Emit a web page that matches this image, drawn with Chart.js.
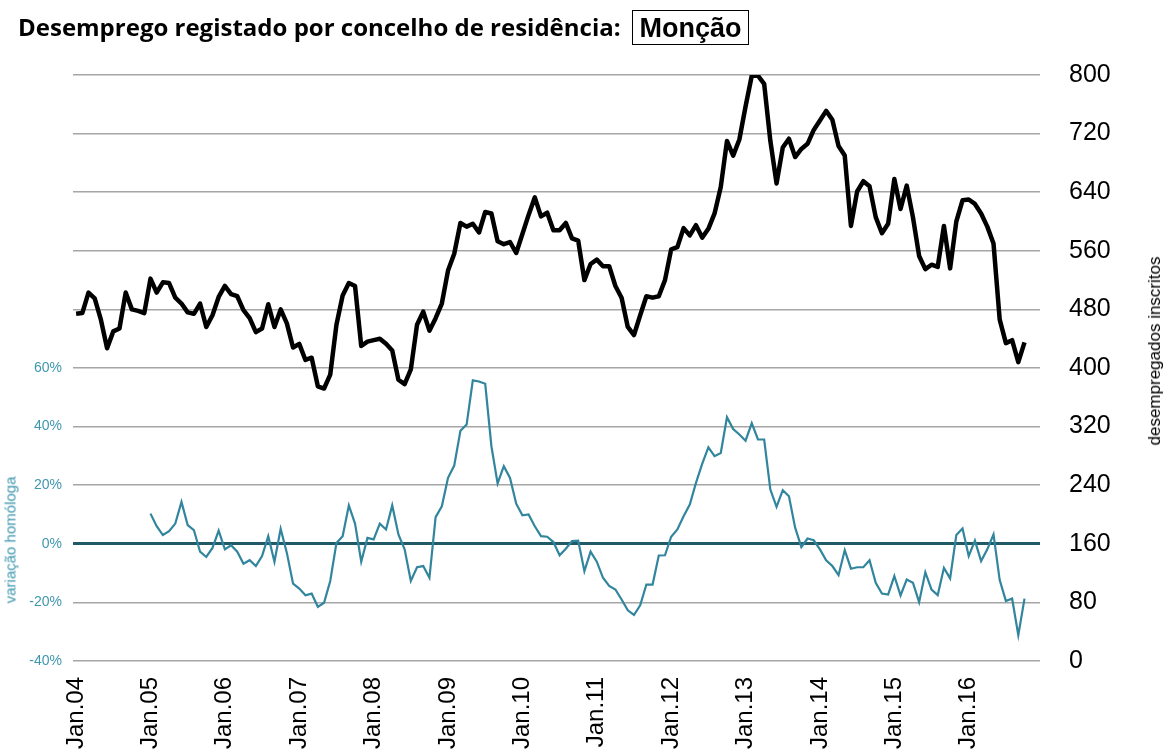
<!DOCTYPE html>
<html lang="pt">
<head>
  <meta charset="UTF-8">
  <title>Desemprego registado - Monção</title>
  <script src="https://cdn.jsdelivr.net/npm/chart.js"></script>
  <style>
    html, body { margin: 0; padding: 0; background: #fff; }
    #wrap { position: relative; width: 1169px; height: 754px; overflow: hidden; }
    #chart { position: absolute; left: 0; top: 0; }
    #title { position: absolute; left: 18px; top: 10px; font: bold 24px "Open Sans", Lato, sans-serif; color: #000; white-space: nowrap; }
    #muni { position: absolute; left: 632px; top: 10px; width: 115px; height: 33px; border: 1px solid #000;
            font: bold 27px "Liberation Sans", Arial, sans-serif; text-align: center; line-height: 34px; }
    .ytitle { position: absolute; white-space: nowrap; transform: translate(-50%, -50%) rotate(-90deg);
              font-family: "Liberation Sans", Arial, sans-serif; }
  </style>
</head>
<body>
<div id="wrap">
  <canvas id="chart" width="1169" height="754"></canvas>
  <div id="title">Desemprego registado por concelho de residência:</div>
  <div id="muni">Monção</div>
  <div class="ytitle" style="left:10px; top:540px; font-size:15px; color:#3f97ae;">variação homóloga</div>
  <div class="ytitle" style="left:1155px; top:351px; font-size:17px; color:#000;">desempregados inscritos</div>
</div>

<script>
  // month labels Jan.04 .. Dez.16
  const monthNames = ['Jan', 'Fev', 'Mar', 'Abr', 'Mai', 'Jun', 'Jul', 'Ago', 'Set', 'Out', 'Nov', 'Dez'];
  const years = ['04', '05', '06', '07', '08', '09', '10', '11', '12', '13', '14', '15', '16'];
  const months = [];
  years.forEach(y => monthNames.forEach(m => months.push(m + '.' + y)));

  // desempregados inscritos (right axis), Jan.04 .. Out.16
  const registered = [
    474, 475, 503, 495, 466, 427, 450, 454, 503, 480, 478, 475,
    522, 503, 517, 516, 496, 488, 476, 474, 488, 456, 472, 497,
    512, 501, 498, 479, 468, 449, 454, 487, 456, 480, 461, 428,
    433, 411, 414, 375, 372, 391, 459, 499, 516, 512, 430, 436,
    438, 440, 433, 424, 384, 378, 398, 459, 477, 451, 468, 488,
    533, 556, 598, 593, 597, 585, 613, 611, 573, 569, 572, 557,
    583, 609, 633, 607, 612, 588, 588, 598, 577, 574, 520, 542,
    548, 539, 539, 512, 496, 456, 445, 472, 498, 496, 498, 520,
    562, 565, 591, 581, 595, 578, 590, 611, 647, 710, 690, 712,
    757, 799, 799, 788, 710, 652, 701, 713, 688, 699, 706, 725,
    738, 751, 739, 703, 690, 594, 641, 655, 648, 606, 584, 597,
    658, 617, 649, 606, 553, 535, 541, 538, 594, 536, 600, 629,
    630, 624, 611, 593, 570, 466, 434, 438, 408, 435
  ];

  // variação homóloga (%), left axis, starts Jan.05
  const yoyChange = [
    null, null, null, null, null, null, null, null, null, null, null, null,
    10.3, 6.0, 3.0, 4.3, 6.9, 14.3, 6.4, 4.7, -2.7, -4.5, -1.4, 4.5,
    -1.9, -0.5, -2.7, -6.8, -5.6, -7.6, -4.2, 2.6, -6.1, 5.1, -3.1, -13.6,
    -15.3, -17.6, -17.0, -21.5, -20.1, -12.7, 0.3, 2.6, 13.1, 6.9, -6.1, 2.0,
    1.5, 6.9, 4.9, 13.1, 3.2, -1.9, -12.7, -8.0, -7.6, -11.6, 9.1, 12.8,
    22.5, 26.7, 38.6, 40.7, 55.8, 55.4, 54.6, 33.3, 20.6, 26.5, 22.5, 13.7,
    9.7, 10.0, 6.0, 2.6, 2.4, 0.6, -3.9, -1.7, 0.9, 1.1, -9.3, -2.7,
    -6.1, -11.6, -14.4, -15.6, -19.0, -22.7, -24.3, -21.0, -13.9, -13.9, -4.0, -3.9,
    2.4, 4.9, 9.4, 13.4, 20.8, 27.3, 32.9, 29.9, 31.0, 43.2, 39.2, 37.3,
    35.2, 41.2, 35.6, 35.6, 18.5, 12.6, 18.3, 16.2, 5.5, -1.1, 1.8, 1.2,
    -1.9, -5.6, -7.6, -10.7, -2.2, -8.5, -8.0, -8.0, -5.6, -13.3, -17.0, -17.3,
    -11.0, -17.6, -12.2, -13.3, -19.9, -9.7, -15.6, -17.5, -8.2, -11.8, 3.0, 5.2,
    -4.2, 1.1, -5.9, -1.9, 3.2, -12.4, -19.5, -18.7, -31.2, -18.7
  ];

  const ctx = document.getElementById('chart').getContext('2d');
  const chart = new Chart(ctx, {
    type: 'line',
    data: {
      labels: months,
      datasets: [{
        label: 'desempregados inscritos',
        data: registered,
        yAxisID: 'yR',
        borderColor: '#000',
        borderWidth: 4.5,
        borderJoinStyle: 'round',
        pointRadius: 0,
        tension: 0
      }, {
        label: 'variação homóloga',
        data: yoyChange,
        yAxisID: 'yL',
        borderColor: '#31859c',
        borderWidth: 2.2,
        pointRadius: 0,
        tension: 0
      }]
    },
    options: {
      responsive: false,
      animation: false,
      layout: { padding: { top: 75, left: 0, right: 0, bottom: 0 } },
      plugins: { legend: { display: false }, tooltip: { enabled: false }, title: { display: false } },
      scales: {
        x: {
          type: 'category',
          offset: true,
          grid: { display: false, drawTicks: false },
          border: { display: false },
          ticks: {
            autoSkip: false,
            minRotation: 90,
            maxRotation: 90,
            padding: 16,
            color: '#000',
            font: { family: 'Liberation Sans', size: 24 },
            callback: (v, i) => (i % 12 === 0 ? months[i] : '')
          },
          afterFit: s => { s.height = 93; }
        },
        yL: {
          position: 'left',
          min: -40,
          max: 160,
          grid: {
            drawTicks: false,
            color: c => (c.tick && c.tick.value === 0 ? '#215968' : '#a6a6a6'),
            lineWidth: c => (c.tick && c.tick.value === 0 ? 3 : 1.5)
          },
          border: { display: false },
          ticks: {
            stepSize: 20,
            padding: 11,
            color: '#3f97ae',
            font: { family: 'Liberation Sans', size: 14 },
            callback: v => (v <= 60 ? v + '%' : '')
          },
          afterFit: s => { s.width = 73; }
        },
        yR: {
          position: 'right',
          min: 0,
          max: 800,
          grid: { display: false, drawTicks: false },
          border: { display: false },
          ticks: {
            stepSize: 80,
            padding: 29,
            color: '#000',
            font: { family: 'Liberation Sans', size: 25 }
          },
          afterFit: s => { s.width = 129; }
        }
      }
    }
  });
</script>
</body>
</html>
